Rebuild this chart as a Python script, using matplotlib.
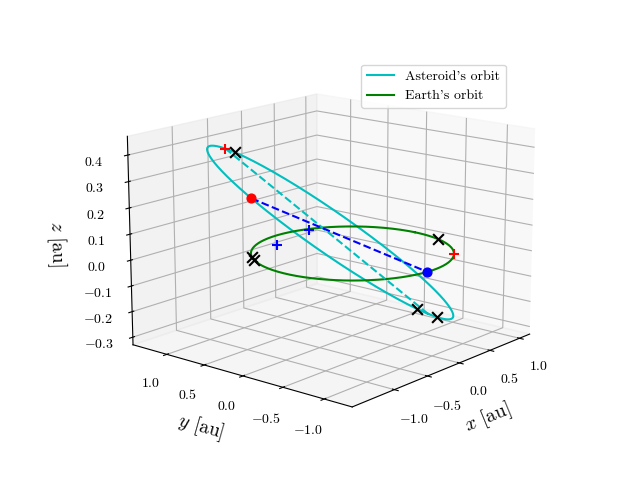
import numpy as np
import matplotlib
matplotlib.use("Agg")
import matplotlib.pyplot as plt

plt.rcParams["font.family"] = "serif"
plt.rcParams["font.serif"] = ["cmr10"]
plt.rcParams["mathtext.fontset"] = "cm"
plt.rcParams["axes.formatter.use_mathtext"] = True

# asteroid orbital elements (estimated)
a_ast = 1.25
e_ast = 0.21
inc_deg = 18.0
node_deg = 74.0
peri_deg = 270.0

# asteroid position (true anomaly) and Earth position (angle), deg
ast_nu_now = 110.0
earth_th_now = -95.0

# marker true anomalies (deg) on asteroid orbit
cross_nu_ast = [186.0, 350.0, 10.0]
plus_nu_ast = [180.0]
# marker angles (deg) on Earth's orbit
cross_th_earth = [-20.0, 140.0, 146.0]
plus_th_earth = [-55.0]
# blue plus markers in the ecliptic plane (x, y)
plus_x = [0.37, -0.29]
plus_y = [0.88, 0.74]
z_ticks = [-0.3, -0.2, -0.1, 0.0, 0.1, 0.2, 0.3, 0.4]


def orbit_xyz(a, e, inc, node, peri, nu):
    nu = np.radians(nu)
    r = a * (1 - e**2) / (1 + e * np.cos(nu))
    i, O, w = np.radians(inc), np.radians(node), np.radians(peri)
    u = w + nu
    x = r * (np.cos(O) * np.cos(u) - np.sin(O) * np.sin(u) * np.cos(i))
    y = r * (np.sin(O) * np.cos(u) + np.cos(O) * np.sin(u) * np.cos(i))
    z = r * np.sin(u) * np.sin(i)
    return x, y, z


def ast(nu):
    return orbit_xyz(a_ast, e_ast, inc_deg, node_deg, peri_deg, np.atleast_1d(np.asarray(nu, float)))


def earth(th):
    th = np.radians(np.atleast_1d(np.asarray(th, float)))
    return np.cos(th), np.sin(th), np.zeros_like(th)


fig = plt.figure(figsize=(6.4, 4.8))
ax = fig.add_subplot(projection="3d")

nu = np.linspace(0, 360, 400)
ax.plot(*ast(nu), color="c", label="Asteroid's orbit")
ax.plot(*earth(nu), color="g", label="Earth's orbit")

# line of apsides
ax.plot(*ast([0.0, 180.0]), "c--")
# line between asteroid and Earth
pa = ast(ast_nu_now)
pe = earth(earth_th_now)
ax.plot([pa[0][0], pe[0][0]], [pa[1][0], pe[1][0]], [pa[2][0], pe[2][0]], "b--")
ax.scatter(*pa, color="r", s=40, depthshade=False)
ax.scatter(*pe, color="b", s=40, depthshade=False)

ax.scatter(*ast(cross_nu_ast), marker="x", color="k", s=60, depthshade=False)
ax.scatter(*earth(cross_th_earth), marker="x", color="k", s=60, depthshade=False)
ax.scatter(*ast(plus_nu_ast), marker="+", color="r", s=60, depthshade=False)
ax.scatter(*earth(plus_th_earth), marker="+", color="r", s=60, depthshade=False)
ax.scatter(plus_x, plus_y, [0.0] * len(plus_x), marker="+", color="b", s=60, depthshade=False)

ax.set_xlabel(r"$x$ [au]", fontsize=14)
ax.set_ylabel(r"$y$ [au]", fontsize=14)
ax.set_zlabel(r"$z$ [au]", fontsize=14)
ax.set_xticks([-1.0, -0.5, 0.0, 0.5, 1.0])
ax.set_yticks([-1.0, -0.5, 0.0, 0.5, 1.0])
ax.set_zticks(z_ticks)
ax.set_zlim(-0.33, 0.47)
ax.view_init(elev=15, azim=-140)
ax.set_box_aspect(None, zoom=1.2)
ax.legend(loc="upper right")

fig.savefig("out.png", dpi=100)
